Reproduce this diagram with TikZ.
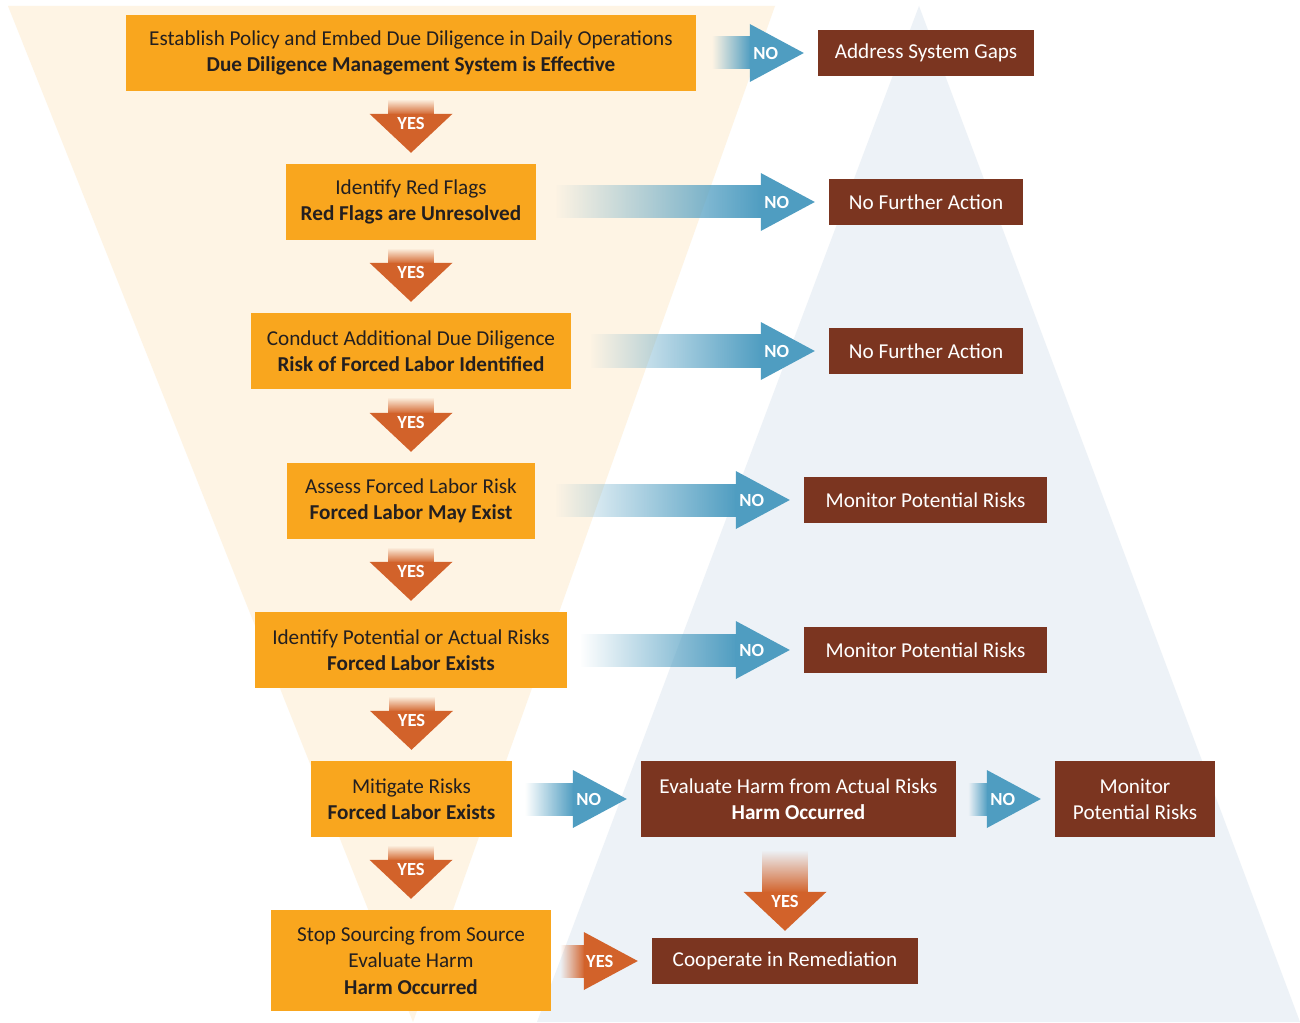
\documentclass[tikz,border=0pt]{standalone}
\usepackage{fontspec}
\setmainfont{Carlito}
\usetikzlibrary{fadings,calc}
\definecolor{peach}{HTML}{FEF4E4}
\definecolor{bluebg}{HTML}{EDF2F7}
\definecolor{boxor}{HTML}{F9A61E}
\definecolor{boxbr}{HTML}{7B3520}
\definecolor{arror}{HTML}{D2622A}
\definecolor{arrbl}{HTML}{4F9DC1}
\definecolor{txtdark}{HTML}{231F20}
\tikzfading[name=fadeL, left color=transparent!100, right color=transparent!0]
\tikzfading[name=fadeT, top color=transparent!100, bottom color=transparent!0]
\tikzset{
 obox/.style={fill=boxor, text=txtdark, align=center, inner sep=0pt, font=\fontsize{21.2}{26.3}\selectfont},
 bbox/.style={fill=boxbr, text=white, align=center, inner sep=0pt, font=\fontsize{21.2}{26.3}\selectfont},
 albl/.style={text=white, font=\bfseries\fontsize{18.5}{20}\selectfont, inner sep=0pt},
}
% right block arrow: from, to, start gap, label, colour
\newcommand\rarr[5]{%
 \fill[#5, path fading=fadeL] let \p1=(#1.east), \p2=(#2.west) in (\x1+#3pt,\y2-16.5pt) rectangle (\x2-67pt,\y2+16.5pt);
 \fill[#5] let \p2=(#2.west) in (\x2-68pt,\y2+29pt) -- (\x2-14pt,\y2) -- (\x2-68pt,\y2-29pt) -- cycle;
 \path let \p2=(#2.west) in node[albl] at (\x2-52pt,\y2) {#4};
}
% down block arrow: from, to, top gap, tip gap, label, colour
\newcommand\darr[6]{%
 \fill[#6, path fading=fadeT] let \p1=(#1.south), \p2=(#2.north) in (\x2-23pt,\y1-#3pt) rectangle (\x2+23pt,\y2+#4pt+38pt);
 \fill[#6] let \p2=(#2.north) in (\x2-41.5pt,\y2+#4pt+39pt) -- (\x2,\y2+#4pt) -- (\x2+41.5pt,\y2+#4pt+39pt) -- cycle;
 \path let \p2=(#2.north) in node[albl] at (\x2,\y2+#4pt+29pt) {#5};
}
\begin{document}
\begin{tikzpicture}[x=1pt,y=-1pt]
\useasboundingbox (0,0) rectangle (1300,1022);
\fill[white] (0,0) rectangle (1300,1022);
\fill[peach] (8,6) -- (775,6) -- (413,1022) -- cycle;
\fill[bluebg] (919,6) -- (1300,1022) -- (537,1022) -- cycle;

% orange boxes
\node[obox, minimum width=570pt, minimum height=76pt] (o1) at (411,53) {Establish Policy and Embed Due Diligence in Daily Operations\\\textbf{Due Diligence Management System is Effective}};
\node[obox, minimum width=250pt, minimum height=76pt] (o2) at (411,202) {Identify Red Flags\\\textbf{Red Flags are Unresolved}};
\node[obox, minimum width=320pt, minimum height=76pt] (o3) at (411,351) {Conduct Additional Due Diligence\\\textbf{Risk of Forced Labor Identified}};
\node[obox, minimum width=248pt, minimum height=76pt] (o4) at (411,501) {Assess Forced Labor Risk\\\textbf{Forced Labor May Exist}};
\node[obox, minimum width=312pt, minimum height=76pt] (o5) at (411,650) {Identify Potential or Actual Risks\\\textbf{Forced Labor Exists}};
\node[obox, minimum width=201pt, minimum height=76pt] (o6) at (411.5,799) {Mitigate Risks\\\textbf{Forced Labor Exists}};
\node[obox, minimum width=280pt, minimum height=101pt] (o7) at (411,960.5) {Stop Sourcing from Source\\Evaluate Harm\\\textbf{Harm Occurred}};

% brown boxes
\node[bbox, minimum width=216pt, minimum height=46pt] (b1) at (926,53) {Address System Gaps};
\node[bbox, minimum width=194pt, minimum height=46pt] (b2) at (926,202) {No Further Action};
\node[bbox, minimum width=194pt, minimum height=46pt] (b3) at (926,351) {No Further Action};
\node[bbox, minimum width=243pt, minimum height=46pt] (b4) at (925.5,500) {Monitor Potential Risks};
\node[bbox, minimum width=243pt, minimum height=46pt] (b5) at (925.5,650) {Monitor Potential Risks};
\node[bbox, minimum width=315pt, minimum height=76pt] (b6) at (798.5,799) {Evaluate Harm from Actual Risks\\\textbf{Harm Occurred}};
\node[bbox, minimum width=160pt, minimum height=76pt] (b7) at (1135,799) {Monitor\\Potential Risks};
\node[bbox, minimum width=266pt, minimum height=46pt] (b8) at (785,961) {Cooperate in Remediation};

% NO arrows
\rarr{o1}{b1}{16}{NO}{arrbl}
\rarr{o2}{b2}{19}{NO}{arrbl}
\rarr{o3}{b3}{19}{NO}{arrbl}
\rarr{o4}{b4}{20}{NO}{arrbl}
\rarr{o5}{b5}{13}{NO}{arrbl}
\rarr{o6}{b6}{13}{NO}{arrbl}
\rarr{b6}{b7}{12}{NO}{arrbl}
\rarr{o7}{b8}{9}{YES}{arror}

% YES arrows
\darr{o1}{o2}{8}{11}{YES}{arror}
\darr{o2}{o3}{8}{11}{YES}{arror}
\darr{o3}{o4}{8}{11}{YES}{arror}
\darr{o4}{o5}{8}{11}{YES}{arror}
\darr{o5}{o6}{8}{11}{YES}{arror}
\darr{o6}{o7}{8}{11}{YES}{arror}
\darr{b6}{b8}{13}{7}{YES}{arror}
\end{tikzpicture}
\end{document}
